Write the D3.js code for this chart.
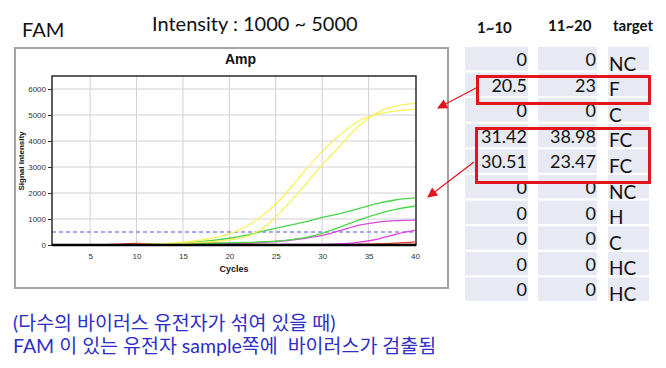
<!DOCTYPE html>
<html>
<head>
<meta charset="utf-8">
<script src="https://cdn.jsdelivr.net/npm/d3@7"></script>
<style>
  body { margin: 0; background: #fff; }
  svg { display: block; }
</style>
</head>
<body>
<div id="chart-area"></div>
<script>
// DATA
var cycles = [1, 5, 8, 10, 12, 14, 16, 18, 20, 22, 24, 26, 28, 30, 32, 34, 36, 38, 40];

var yellowA  = [0, 0, 10, 20, 30, 80, 150, 260, 430, 750, 1250, 1950, 2800, 3600, 4250, 4780, 5030, 5160, 5230];
var yellowB  = [0, 0, 0, 10, 20, 40, 80, 130, 200, 340, 750, 1450, 2250, 3080, 3850, 4600, 5100, 5350, 5450];
var greenA   = [0, 0, 5, 10, 20, 40, 100, 170, 260, 390, 560, 720, 880, 1060, 1220, 1410, 1600, 1740, 1810];
var greenB   = [0, 0, 0, 0, 10, 20, 40, 60, 80, 100, 130, 180, 270, 450, 700, 970, 1200, 1380, 1500];
var magentaA = [0, 0, 0, 0, 5, 10, 20, 40, 60, 80, 110, 160, 250, 370, 560, 760, 880, 940, 960];
var magentaB = [0, 0, 0, 0, 0, 0, 5, 10, 10, 15, 15, 20, 20, 25, 40, 110, 230, 420, 560];
var orange   = [0, 0, 0, 10, 20, 50, 70, 80, 60, 40, 20, 10, 10, 10, 10, 10, 20, 20, 30];
var red      = [0, 0, 30, 60, 40, 20, 10, 10, 10, 10, 10, 10, 10, 15, 20, 30, 40, 70, 120];

var threshold = 500;
var yTicks = [0, 1000, 2000, 3000, 4000, 5000, 6000];
var xTicks = [5, 10, 15, 20, 25, 30, 35, 40];

var headers = ["1~10", "11~20", "target"];
var ct1 = ["0", "20.5", "0", "31.42", "30.51", "0", "0", "0", "0", "0"];
var ct2 = ["0", "23", "0", "38.98", "23.47", "0", "0", "0", "0", "0"];
var targets = ["NC", "F", "C", "FC", "FC", "NC", "H", "C", "HC", "HC"];

var series = [
    { name: "red", values: red, color: "#e23a3a" },
    { name: "orange", values: orange, color: "#f07a2a" },
    { name: "magentaB", values: magentaB, color: "#e040e0" },
    { name: "magentaA", values: magentaA, color: "#d84ad8" },
    { name: "greenB", values: greenB, color: "#4cd84c" },
    { name: "greenA", values: greenA, color: "#4ad44a" },
    { name: "yellowB", values: yellowB, color: "#f5f25a" },
    { name: "yellowA", values: yellowA, color: "#f6f35e" }
];

var W = 666, H = 368;
var svg = d3.select("#chart-area").append("svg")
    .attr("width", W).attr("height", H);

var sans = "Lato, 'Noto Sans CJK KR', sans-serif";
var arial = "'Liberation Sans', Arial, sans-serif";

// Top labels
svg.append("text").attr("x", 22).attr("y", 37)
    .attr("font-family", sans).attr("font-size", 20).attr("fill", "#111")
    .text("FAM");
svg.append("text").attr("x", 152).attr("y", 31)
    .attr("font-family", sans).attr("font-size", 20).attr("fill", "#111")
    .text("Intensity : 1000 ~ 5000");

// Outer chart frame
svg.append("rect").attr("x", 15).attr("y", 48).attr("width", 433).attr("height", 240)
    .attr("fill", "#fff").attr("stroke", "#a3a3a3").attr("stroke-width", 2);

svg.append("text").attr("x", 240.5).attr("y", 64)
    .attr("text-anchor", "middle").attr("font-family", arial)
    .attr("font-size", 14).attr("font-weight", "bold").attr("fill", "#111")
    .text("Amp");

// Plot scales
var px0 = 52, px1 = 416, py0 = 76, py1 = 245;
var x = d3.scaleLinear().domain([1, 40]).range([53, 415]);
var y = d3.scaleLinear().domain([0, 6500]).range([py1, py0]);

var g = svg.append("g");

g.append("clipPath").attr("id", "plot-clip")
    .append("rect").attr("x", px0).attr("y", py0)
    .attr("width", px1 - px0).attr("height", py1 - py0 + 1);

// Grid lines
g.selectAll(".vgrid").data(xTicks.filter(d => d < 40)).enter().append("line")
    .attr("x1", d => x(d)).attr("x2", d => x(d))
    .attr("y1", py0).attr("y2", py1)
    .attr("stroke", "#d2d2d6").attr("stroke-width", 1);
g.selectAll(".hgrid").data(yTicks.filter(d => d > 0)).enter().append("line")
    .attr("x1", px0).attr("x2", px1)
    .attr("y1", d => y(d)).attr("y2", d => y(d))
    .attr("stroke", "#d2d2d6").attr("stroke-width", 1);

// Threshold
g.append("line")
    .attr("x1", px0).attr("x2", px1)
    .attr("y1", y(threshold)).attr("y2", y(threshold))
    .attr("stroke", "#8a8ae6").attr("stroke-width", 1.4)
    .attr("stroke-dasharray", "4,3");

// Curves
var line = d3.line()
    .x((d, i) => x(cycles[i]))
    .y(d => y(d))
    .curve(d3.curveMonotoneX);

g.append("g").attr("clip-path", "url(#plot-clip)")
    .selectAll("path").data(series).enter().append("path")
    .attr("d", d => line(d.values))
    .attr("fill", "none")
    .attr("stroke", d => d.color)
    .attr("stroke-width", 1.3);

// Plot frame
g.append("rect").attr("x", px0).attr("y", py0)
    .attr("width", px1 - px0).attr("height", py1 - py0)
    .attr("fill", "none").attr("stroke", "#2a2a2a").attr("stroke-width", 1.5);
g.append("line").attr("x1", px0).attr("x2", px1)
    .attr("y1", py1).attr("y2", py1)
    .attr("stroke", "#000").attr("stroke-width", 2.5);

// Y axis
var yAxis = g.append("g").attr("transform", "translate(" + px0 + ",0)")
    .call(d3.axisLeft(y).tickValues(yTicks).tickSize(4).tickPadding(2).tickFormat(d3.format("d")));
yAxis.select(".domain").remove();
yAxis.selectAll("line").attr("stroke", "#333");
yAxis.selectAll("text").attr("font-family", arial).attr("font-size", 8).attr("fill", "#333");

// X axis
var xAxis = g.append("g").attr("transform", "translate(0," + py1 + ")")
    .call(d3.axisBottom(x).tickValues(xTicks).tickSize(0).tickPadding(8));
xAxis.select(".domain").remove();
xAxis.selectAll("text").attr("font-family", arial).attr("font-size", 8).attr("fill", "#333");

// Axis labels
g.append("text").attr("x", 234).attr("y", 272)
    .attr("text-anchor", "middle").attr("font-family", arial)
    .attr("font-size", 9).attr("font-weight", "bold").attr("fill", "#111")
    .text("Cycles");
g.append("text")
    .attr("transform", "translate(24,161) rotate(-90)")
    .attr("text-anchor", "middle").attr("font-family", arial)
    .attr("font-size", 8).attr("font-weight", "bold").attr("fill", "#111")
    .text("Signal Intensity");

// TABLE
var cols = [
    { x0: 465, x1: 528, values: ct1, anchor: "end" },
    { x0: 538, x1: 597, values: ct2, anchor: "end" },
    { x0: 608, x1: 649, values: targets, anchor: "start" }
];
var rowTop = 47, rowStep = 25.6, rowH = 23.5;

var table = svg.append("g");
cols.forEach(function(c, ci) {
    table.selectAll(".cell" + ci).data(c.values).enter().append("rect")
        .attr("x", c.x0).attr("width", c.x1 - c.x0)
        .attr("y", (d, i) => rowTop + i * rowStep).attr("height", rowH)
        .attr("fill", "#e7eaf3");
    table.selectAll(".txt" + ci).data(c.values).enter().append("text")
        .attr("x", c.anchor === "end" ? c.x1 - 1 : c.x0 + 1)
        .attr("y", (d, i) => (ci === 2 ? 70.5 : 66) + i * rowStep)
        .attr("text-anchor", c.anchor)
        .attr("font-family", sans)
        .attr("font-size", ci === 2 ? 19 : 18)
        .attr("fill", "#111")
        .text(d => d);
});

var headX = [477, 548, 613];
var headY = [33, 31, 31];
table.selectAll(".head").data(headers).enter().append("text")
    .attr("x", (d, i) => headX[i]).attr("y", (d, i) => headY[i])
    .attr("font-family", sans).attr("font-size", 15).attr("font-weight", "bold")
    .attr("fill", "#111")
    .text(d => d);

// Red highlight boxes
var boxes = [
    { x: 477.5, y: 76.5, w: 172, h: 27 },
    { x: 476.5, y: 128.5, w: 173, h: 54 }
];
svg.selectAll(".box").data(boxes).enter().append("rect")
    .attr("x", d => d.x).attr("y", d => d.y)
    .attr("width", d => d.w).attr("height", d => d.h)
    .attr("fill", "none").attr("stroke", "#e3141c").attr("stroke-width", 3);

// Arrows
svg.append("defs").append("marker")
    .attr("id", "head").attr("viewBox", "0 0 10 10")
    .attr("refX", 9).attr("refY", 5)
    .attr("markerWidth", 12).attr("markerHeight", 10)
    .attr("markerUnits", "userSpaceOnUse")
    .attr("orient", "auto")
    .append("path").attr("d", "M0,0 L10,5 L0,10 Z").attr("fill", "#e3141c");

var arrows = [
    { x1: 476, y1: 88, x2: 438, y2: 108 },
    { x1: 474, y1: 162, x2: 428, y2: 197 }
];
svg.selectAll(".arrow").data(arrows).enter().append("line")
    .attr("x1", d => d.x1).attr("y1", d => d.y1)
    .attr("x2", d => d.x2).attr("y2", d => d.y2)
    .attr("stroke", "#e3141c").attr("stroke-width", 1.2)
    .attr("marker-end", "url(#head)");

// Korean notes
var notes = ["(다수의 바이러스 유전자가 섞여 있을 때)", "FAM 이 있는 유전자 sample쪽에  바이러스가 검출됨"];
svg.selectAll(".note").data(notes).enter().append("text")
    .attr("x", 13).attr("y", (d, i) => 330 + i * 23)
    .attr("font-family", sans).attr("font-size", 19.5)
    .attr("fill", "#2e2ec8")
    .attr("xml:space", "preserve")
    .style("white-space", "pre")
    .text(d => d);
</script>
</body>
</html>
